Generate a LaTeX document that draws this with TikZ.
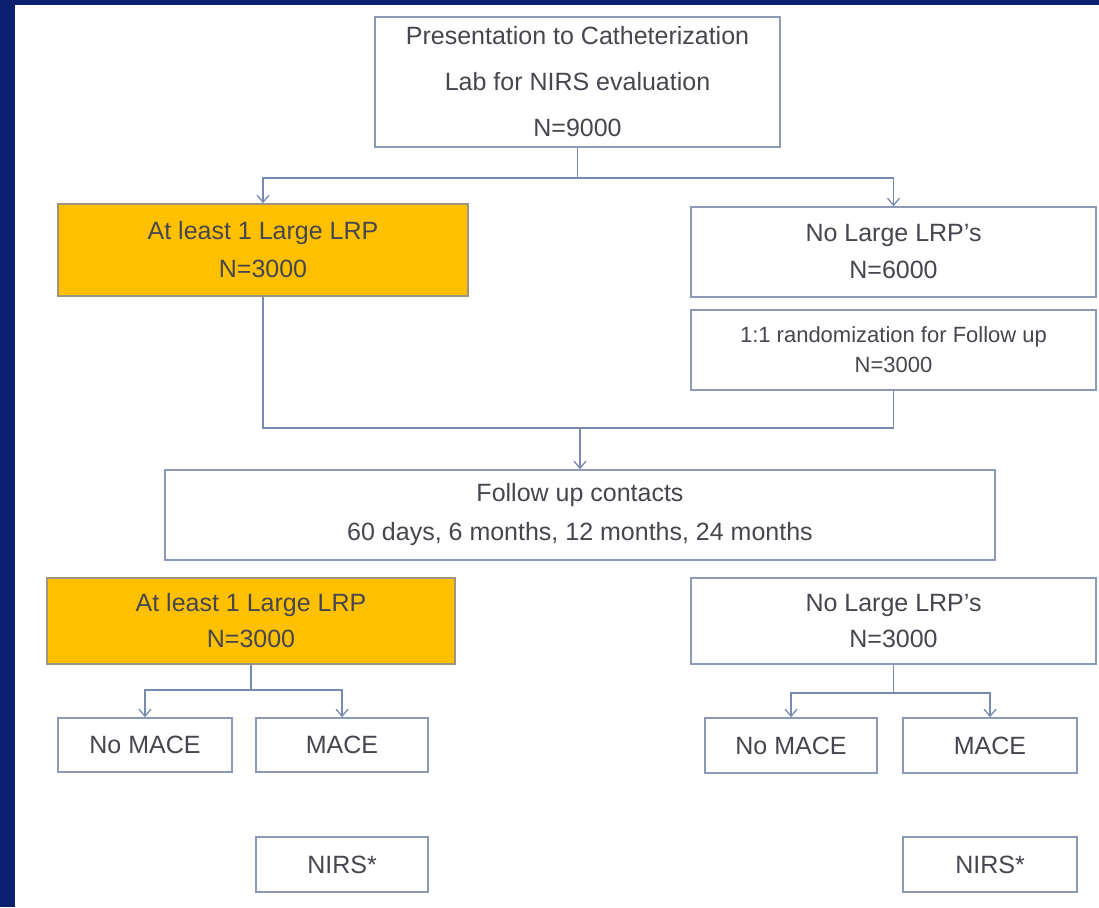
\documentclass[tikz,border=0pt]{standalone}
\usepackage{fontspec}
\setmainfont{Liberation Sans}
\usetikzlibrary{arrows.meta}
\definecolor{navy}{RGB}{12,32,112}
\definecolor{boxline}{RGB}{140,154,184}
\definecolor{conn}{RGB}{120,138,176}
\definecolor{arrowc}{RGB}{90,125,195}
\definecolor{txt}{RGB}{70,70,78}
\definecolor{amber}{RGB}{255,192,0}
\tikzset{
  box/.style={draw=boxline, line width=1.6pt, fill=white, rectangle, align=center,
    text=txt, inner sep=0pt},
  orangebox/.style={box, fill=amber, draw=boxline!70!amber!60!gray},
  conline/.style={draw=conn, line width=1.5pt},
  arr/.style={conline, -{Straight Barb[length=7pt,width=12pt,line width=1.3pt]}},
  bigtxt/.style={font=\fontsize{25}{38}\selectfont},
}
\begin{document}
\begin{tikzpicture}[x=1pt,y=-1pt]
\useasboundingbox (0,0) rectangle (1099,907);
\fill[white] (0,0) rectangle (1099,907);
\fill[navy] (0,0) rectangle (1099,5);
\fill[navy] (0,0) rectangle (15,907);

\node[box, minimum width=405pt, minimum height=130pt, font=\fontsize{25}{46}\selectfont] (top) at (577.5,82)
  {Presentation to Catheterization\\Lab for NIRS evaluation\\N=9000};
\node[orangebox, minimum width=410pt, minimum height=92pt, bigtxt] (L1) at (263,250)
  {At least 1 Large LRP\\N=3000};
\node[box, minimum width=405pt, minimum height=90pt, font=\fontsize{25}{37}\selectfont] (R1) at (893.5,252)
  {No Large LRP's\\N=6000};
\node[box, minimum width=405pt, minimum height=80pt, font=\fontsize{22}{30}\selectfont] (rand) at (893.5,350)
  {1:1 randomization for Follow up\\N=3000};
\node[box, minimum width=830pt, minimum height=90pt, font=\fontsize{25}{39}\selectfont] (fu) at (580,515)
  {Follow up contacts\\60 days, 6 months, 12 months, 24 months};
\node[orangebox, minimum width=408pt, minimum height=86pt, font=\fontsize{25}{36}\selectfont] (L2) at (251,621)
  {At least 1 Large LRP\\N=3000};
\node[box, minimum width=405pt, minimum height=86pt, font=\fontsize{25}{36}\selectfont] (R2) at (893.5,621)
  {No Large LRP's\\N=3000};
\node[box, minimum width=174pt, minimum height=54pt, bigtxt] (lno) at (145,745) {No MACE};
\node[box, minimum width=172pt, minimum height=54pt, bigtxt] (lmace) at (342,745) {MACE};
\node[box, minimum width=172pt, minimum height=55pt, bigtxt] (lnirs) at (342,864.5) {NIRS*};
\node[box, minimum width=172pt, minimum height=55pt, bigtxt] (rno) at (791,745.5) {No MACE};
\node[box, minimum width=174pt, minimum height=55pt, bigtxt] (rmace) at (990,745.5) {MACE};
\node[box, minimum width=174pt, minimum height=55pt, bigtxt] (rnirs) at (990,864.5) {NIRS*};

% top split
\coordinate (s1) at (577.5,178);
\draw[conline] (top.south) -- (s1);
\draw[arr] (s1) -| (L1.north);
\draw[arr] (s1) -| (R1.north);

% merge
\coordinate (m1) at (580,428);
\draw[conline] (L1.south) |- (m1) -| (rand.south);
\draw[arr] (m1) -- (fu.north);

% left lower split
\coordinate (s2) at (251,690);
\draw[conline] (L2.south) -- (s2);
\draw[arr] (s2) -| (lno.north);
\draw[arr] (s2) -| (lmace.north);

% right lower split
\coordinate (s3) at (893.5,693);
\draw[conline] (R2.south) -- (s3);
\draw[arr] (s3) -| (rno.north);
\draw[arr] (s3) -| (rmace.north);
\end{tikzpicture}
\end{document}
